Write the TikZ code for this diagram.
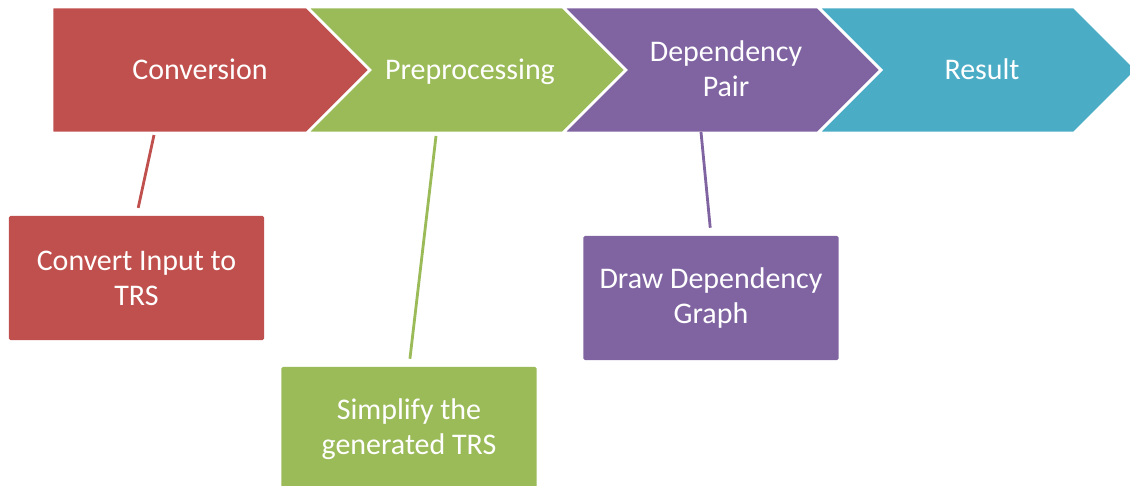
\documentclass[tikz,border=0pt]{standalone}
\usepackage{fontspec}
\setmainfont{Carlito}
\usetikzlibrary{positioning}

\definecolor{convred}{HTML}{C0504D}
\definecolor{prepgreen}{HTML}{9BBB59}
\definecolor{deppurple}{HTML}{8064A2}
\definecolor{resblue}{HTML}{4BACC6}

\begin{document}
\begin{tikzpicture}[x=0.025cm,y=-0.025cm]
  \tikzset{stage/.style = {text=white,inner sep=0pt,align=center,font=\fontsize{21.3}{24.8}\selectfont}}
  \tikzset{task/.style = {stage,minimum width=6.375cm,minimum height=3.1cm,rounded corners=1pt}}
  \tikzset{chevron/.style = {draw=white,line width=2pt,line join=miter}}
  \tikzset{link/.style = {line width=2pt,shorten >=0.2cm}}

\useasboundingbox (0,0) rectangle (1130,486);

% process chevrons
\filldraw[chevron,fill=convred] (52,7) -- (307,7) -- (370,70) -- (307,133) -- (52,133) -- cycle;
\filldraw[chevron,fill=prepgreen] (307,7) -- (563,7) -- (626,70) -- (563,133) -- (307,133) -- (370,70) -- cycle;
\filldraw[chevron,fill=deppurple] (563,7) -- (818,7) -- (881,70) -- (818,133) -- (563,133) -- (626,70) -- cycle;
\filldraw[chevron,fill=resblue] (818,7) -- (1074,7) -- (1137,70) -- (1074,133) -- (818,133) -- (881,70) -- cycle;

\node[stage] (conv) at (200,69) {Conversion};
\node[stage] (prep) at (470,71.5) {Preprocessing};
\node[stage] (dep)  at (726,69) {Dependency\\Pair};
\node[stage] (res)  at (982,69) {Result};

% tasks below
\node[task,fill=convred]    (convert)  at (136.5,278) {Convert Input to\\TRS};
\node[task,fill=prepgreen]  (simplify) at (409,429)   {Simplify the\\generated TRS};
\node[task,fill=deppurple]  (graph)    at (711,298)   {Draw Dependency\\Graph};

\coordinate (convfoot) at (154,135);
\coordinate (prepfoot) at (436,136);
\coordinate (depfoot)  at (701,132);

\draw[link,convred] (convfoot) -- (convert.north);
\draw[link,prepgreen] (prepfoot) -- (simplify.north);
\draw[link,deppurple] (depfoot) -- (graph.north);

\end{tikzpicture}
\end{document}
